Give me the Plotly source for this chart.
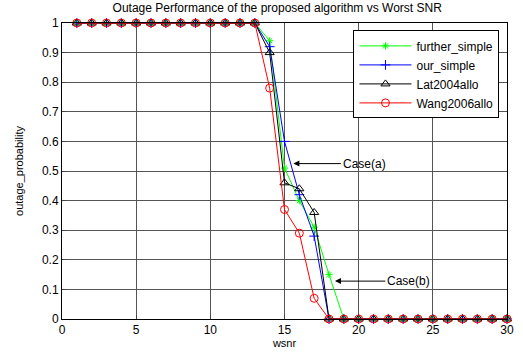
import plotly.graph_objects as go

wsnr = list(range(1, 31))
further_simple = [1]*13 + [0.94, 0.51, 0.40, 0.31, 0.15] + [0]*12
our_simple = [1]*13 + [0.92, 0.60, 0.42, 0.28] + [0]*13
lat2004 = [1]*13 + [0.90, 0.46, 0.44, 0.36] + [0]*13
wang2006 = [1]*13 + [0.78, 0.37, 0.29, 0.07] + [0]*13

series = [
    ("further_simple", further_simple, "#00ff00", "asterisk-open", 6),
    ("our_simple", our_simple, "#0000ff", "cross-thin-open", 7),
    ("Lat2004allo", lat2004, "#000000", "triangle-up-open", 8),
    ("Wang2006allo", wang2006, "#ff0000", "circle-open", 8),
]

fig = go.Figure()
for name, ys, col, sym, sz in series:
    fig.add_trace(go.Scatter(
        x=wsnr, y=ys, name=name, mode="lines+markers",
        line=dict(color=col, width=1),
        marker=dict(symbol=sym, size=sz, color=col, line=dict(color=col, width=1)),
        cliponaxis=False,
    ))

fig.add_annotation(x=15.6, y=0.525, ax=18.8, ay=0.525, axref="x", ayref="y",
                   text="Case(a)", showarrow=True, arrowhead=2, arrowsize=1.2,
                   arrowwidth=1, arrowcolor="#000", xanchor="left",
                   font=dict(size=12, color="#000"))
fig.add_annotation(x=18.4, y=0.128, ax=21.8, ay=0.128, axref="x", ayref="y",
                   text="Case(b)", showarrow=True, arrowhead=2, arrowsize=1.2,
                   arrowwidth=1, arrowcolor="#000", xanchor="left",
                   font=dict(size=12, color="#000"))

fig.update_layout(
    width=523, height=356,
    margin=dict(l=62, r=9, t=23, b=36),
    paper_bgcolor="white", plot_bgcolor="white",
    font=dict(family="Liberation Sans, Arial", size=12, color="#000"),
    title=dict(text="Outage Performance of the proposed algorithm vs Worst SNR",
               x=0.53, xanchor="center", y=0.99, yanchor="top",
               font=dict(size=12)),
    showlegend=True,
    legend=dict(x=0.655, y=0.975, xanchor="left", yanchor="top",
                bgcolor="white", bordercolor="#000", borderwidth=1,
                font=dict(size=12), tracegroupgap=0, itemwidth=52),
    xaxis=dict(range=[0, 30], tickvals=[0, 5, 10, 15, 20, 25, 30],
               showgrid=True, gridcolor="#555", gridwidth=1,
               showline=True, linecolor="#000", mirror=True, linewidth=1,
               ticks="inside", ticklen=4, zeroline=False,
               title=dict(text="wsnr", standoff=2, font=dict(size=11))),
    yaxis=dict(range=[0, 1], tickvals=[i/10 for i in range(11)],
               ticktext=["0", "0.1", "0.2", "0.3", "0.4", "0.5", "0.6", "0.7", "0.8", "0.9", "1"],
               showgrid=True, gridcolor="#555", gridwidth=1,
               showline=True, linecolor="#000", mirror=True, linewidth=1,
               ticks="inside", ticklen=4, zeroline=False,
               title=dict(text="outage_probability", standoff=16, font=dict(size=11))),
)

fig.write_html("out.html")
